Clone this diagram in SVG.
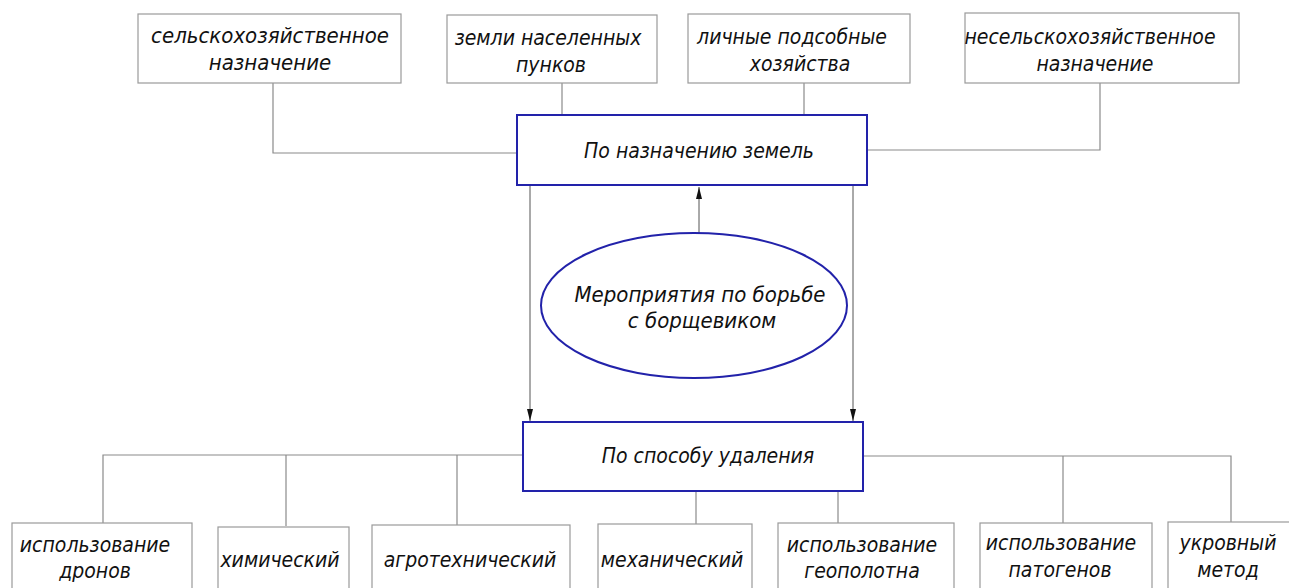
<svg xmlns="http://www.w3.org/2000/svg" width="1289" height="588" viewBox="0 0 1289 588">
<style>
.box{fill:#fff;stroke:#9a9a9a;stroke-width:1.2}
.main{fill:#fff;stroke:#2222aa;stroke-width:2}
.ln{fill:none;stroke:#8a8a8a;stroke-width:1.2}
.ar{fill:none;stroke:#555;stroke-width:1}
text{font-family:"DejaVu Sans Condensed","DejaVu Sans","Liberation Sans",sans-serif;font-style:italic;font-size:21px;fill:#111;text-anchor:middle}
.w{font-size:22px}
</style>
<defs>
<marker id="ah" viewBox="0 0 12 6" refX="12" refY="3" markerWidth="12" markerHeight="6" markerUnits="userSpaceOnUse" orient="auto">
<path d="M0,0 L12,3 L0,6 Z" fill="#111"/>
</marker>
</defs>
<rect width="1289" height="588" fill="#fff"/>
<g id="connectors">
<path class="ln" d="M273,83 V153 H517"/>
<path class="ln" d="M562,83 V115"/>
<path class="ln" d="M804,83 V115"/>
<path class="ln" d="M1100,83 V150 H867"/>
<path class="ar" d="M699,233 V187" marker-end="url(#ah)"/>
<path class="ar" d="M530,185 V421" marker-end="url(#ah)"/>
<path class="ar" d="M853,185 V421" marker-end="url(#ah)"/>
<path class="ln" d="M522,455 H103 V523"/>
<path class="ln" d="M286,455 V526"/>
<path class="ln" d="M457,455 V525"/>
<path class="ln" d="M696,491 V524"/>
<path class="ln" d="M838,491 V523"/>
<path class="ln" d="M864,456 H1231 V522"/>
<path class="ln" d="M1063,456 V523"/>
</g>
<g id="n-selhoz">
<rect class="box" x="138" y="14" width="263" height="69"/>
<text class="w" x="270" y="43">сельскохозяйственное</text>
<text class="w" x="270" y="70">назначение</text>
</g>
<g id="n-zemli">
<rect class="box" x="447" y="15" width="210" height="68"/>
<text x="548" y="45">земли населенных</text>
<text x="551" y="72">пунков</text>
</g>
<g id="n-lichnye">
<rect class="box" x="688" y="14" width="222" height="69"/>
<text x="792" y="44">личные подсобные</text>
<text x="800" y="71">хозяйства</text>
</g>
<g id="n-neselhoz">
<rect class="box" x="965" y="13" width="274" height="70"/>
<text x="1090" y="44">несельскохозяйственное</text>
<text x="1095" y="71">назначение</text>
</g>
<g id="n-naznach">
<rect class="main" x="517" y="115" width="350" height="70"/>
<text x="699" y="158">По назначению земель</text>
</g>
<g id="n-merop">
<ellipse cx="694" cy="305.5" rx="153" ry="72.5" fill="#fff" stroke="#2222aa" stroke-width="2"/>
<text class="w" x="700" y="302">Мероприятия по борьбе</text>
<text class="w" x="702" y="328">с борщевиком</text>
</g>
<g id="n-sposob">
<rect class="main" x="523" y="422" width="340" height="69"/>
<text x="708" y="463">По способу удаления</text>
</g>
<g id="n-drony">
<rect class="box" x="12" y="523" width="180" height="80"/>
<text x="95" y="552">использование</text>
<text x="95" y="578">дронов</text>
</g>
<g id="n-himich">
<rect class="box" x="218" y="527" width="131" height="80"/>
<text x="280" y="567">химический</text>
</g>
<g id="n-agro">
<rect class="box" x="372" y="525" width="198" height="80"/>
<text x="470" y="567">агротехнический</text>
</g>
<g id="n-meh">
<rect class="box" x="598" y="524" width="154" height="80"/>
<text x="672" y="567">механический</text>
</g>
<g id="n-geo">
<rect class="box" x="778" y="523" width="176" height="80"/>
<text x="862" y="552">использование</text>
<text x="862" y="578">геополотна</text>
</g>
<g id="n-patogen">
<rect class="box" x="980" y="523" width="172" height="80"/>
<text x="1061" y="550">использование</text>
<text x="1060" y="577">патогенов</text>
</g>
<g id="n-ukrov">
<rect class="box" x="1168" y="522" width="130" height="80"/>
<text x="1228" y="550">укровный</text>
<text x="1228" y="577">метод</text>
</g>
</svg>
